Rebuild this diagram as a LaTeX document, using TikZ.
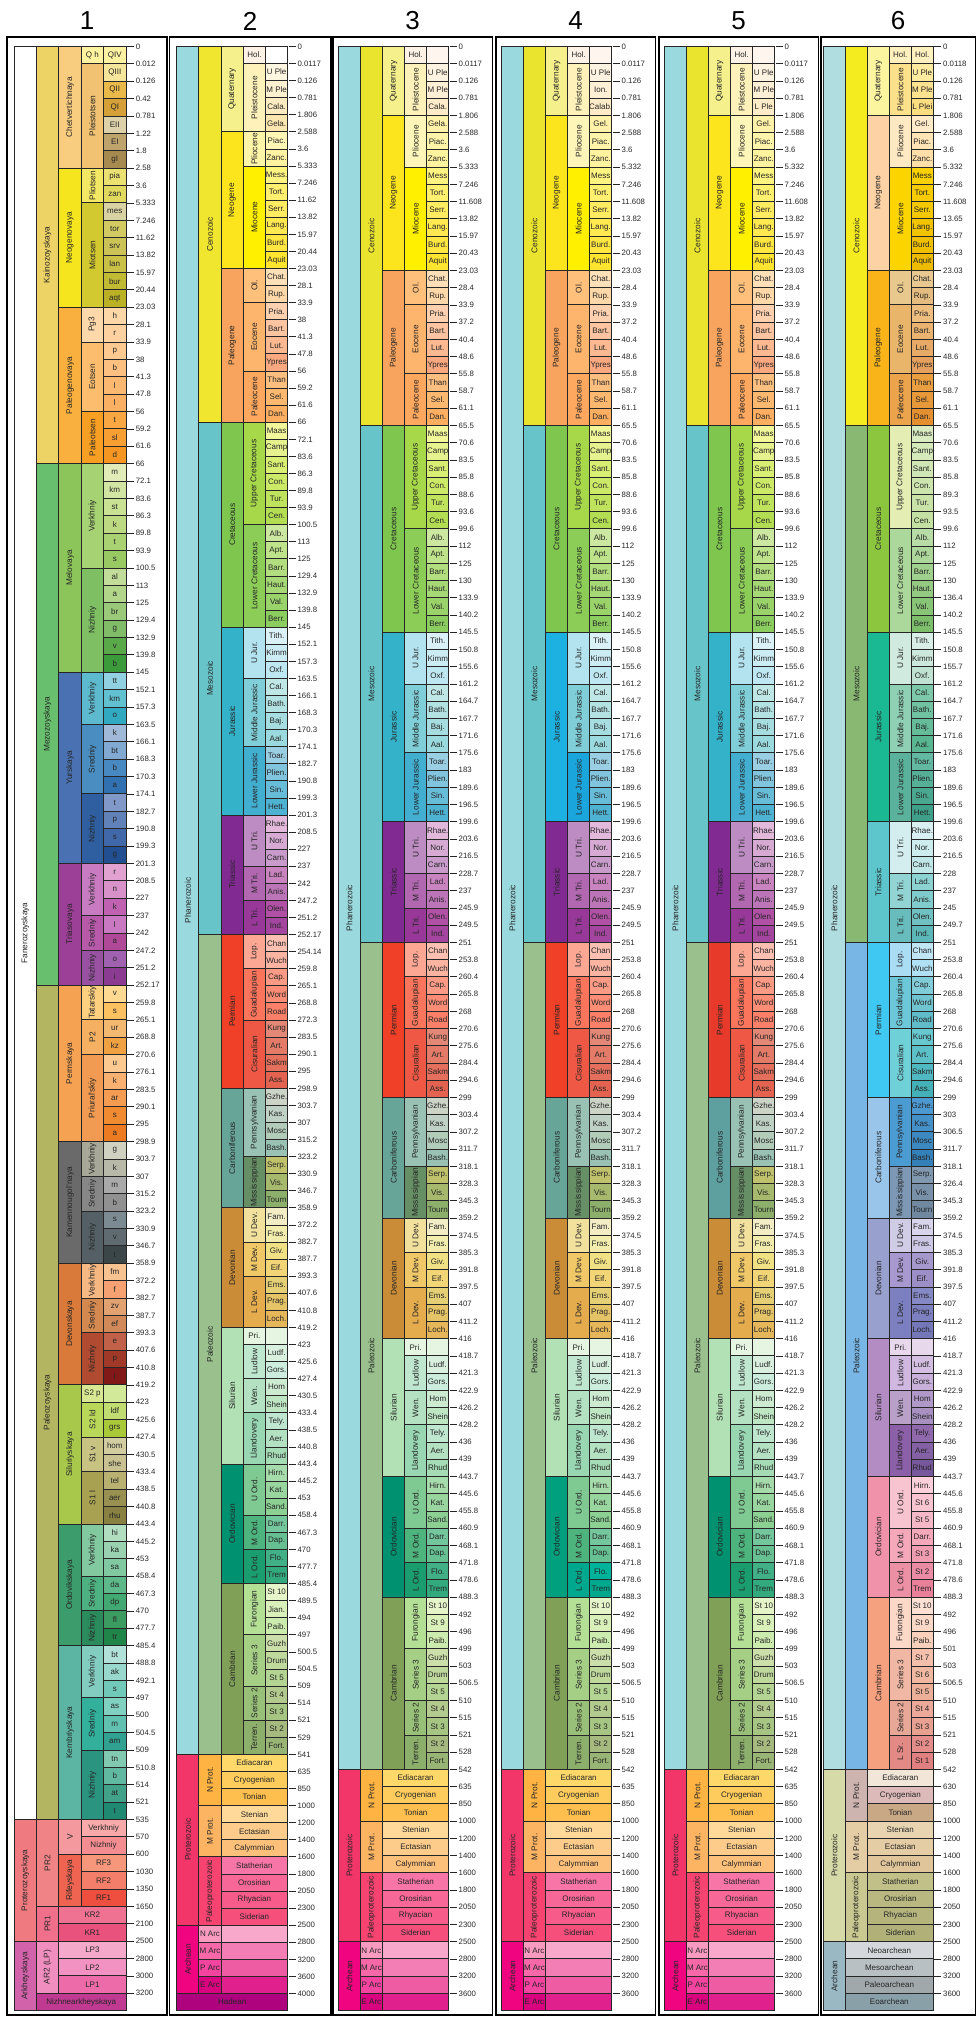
\documentclass[tikz,border=0pt]{standalone}
\usepackage{fontspec}
\setmainfont{Liberation Sans}
\usepackage{tikz}

% column geometry: eon left edge, cell width, top of rows, row height
\newcommand\setcol[4]{\def\colxe{#1}\def\colcw{#2}\def\coly{#3}\def\colh{#4}}
% one box: level from, level to, row from, row to, colour, label, rotation
\newcommand\gcell[7]{%
  \pgfmathsetmacro\gxa{\colxe+(#1)*\colcw}%
  \pgfmathsetmacro\gxb{\colxe+(#2+1)*\colcw}%
  \pgfmathsetmacro\gya{\coly+(#3)*\colh}%
  \pgfmathsetmacro\gyb{\coly+(#4)*\colh}%
  \edef\gtmp{\noexpand\definecolor{gfill}{HTML}{#5}}\gtmp
  \draw[cellline, fill=gfill] (\gxa,\gya) rectangle (\gxb,\gyb);
  \begin{scope}
  \clip (\gxa,\gya) rectangle (\gxb,\gyb);
  \ifnum#7=0 \node[celltext] at ({(\gxa+\gxb)/2},{(\gya+\gyb)/2}) {#6};
  \else \node[rottext] at ({(\gxa+\gxb)/2},{(\gya+\gyb)/2}) {#6};\fi
  \end{scope}}
\newcommand\bigcol[1]{\foreach \la/\lb/\ra/\rb/\hex/\lab/\rot in #1 {\gcell{\la}{\lb}{\ra}{\rb}{\hex}{\lab}{\rot}}}
\newcommand\stagecol[1]{\foreach \lab/\hex [count=\i from 0] in #1 {\gcell{4}{4}{\i}{\i+1}{\hex}{\lab}{0}}}
\newcommand\numcol[1]{%
  \pgfmathsetmacro\nx{\colxe+5*\colcw+1}%
  \foreach \v [count=\i from 0] in #1 {%
    \pgfmathsetmacro\ny{\coly+\i*\colh}%
    \draw[tick] (\nx,\ny) -- ++(7,0) node[numtext] {\v};}}

% ---- column 1
\def\bigA{0/0/0/102/FFFFFF/Fanerozoyskaya/90,
1/1/0/24/EDD265/Kainozoyskaya/90,
1/1/24/54/68BF6D/Mezozoyskaya/90,
1/1/54/102/B4B560/Paleozoyskaya/90,
2/2/0/7/F9CD80/Chetvertichnaya/90,
2/2/7/15/F4E51E/Neogenovaya/90,
2/2/15/24/F9B03E/Paleogenovaya/90,
2/2/24/36/8CC65A/Melovaya/90,
2/2/36/47/4A72B2/Yurskaya/90,
2/2/47/54/9C3F96/Triasovaya/90,
2/2/54/63/F5A253/Permskaya/90,
2/2/63/70/6A6A6A/Kamennougol'naya/90,
2/2/70/77/DA7A3A/Devonskaya/90,
2/2/77/85/A8C84C/Siluriyskaya/90,
2/2/85/92/3C9C6C/Ordovikskaya/90,
2/2/92/102/5BB5A2/Kembriyskaya/90,
3/3/0/1/FFF3A0/Q h/0,
3/3/1/7/F0C272/Pleistotsen/90,
3/3/7/9/F2E864/Pliotsen/90,
3/3/9/15/D2C830/Miotsen/90,
3/3/15/17/FDD8AA/Pg3/90,
3/3/17/21/FCBE6E/Eotsen/90,
3/3/21/24/F79F22/Paleotsen/90,
3/3/24/30/A6D274/Verkhniy/90,
3/3/30/36/7DBF62/Nizhniy/90,
3/3/36/39/5DB9CE/Verkhniy/90,
3/3/39/43/4A8DC0/Sredniy/90,
3/3/43/47/2F5FA0/Nizhniy/90,
3/3/47/50/C87BC0/Verkhniy/90,
3/3/50/52/B85AAA/Sredniy/90,
3/3/52/54/9952A2/Nizhniy/90,
3/3/54/56/FDD07F/Tatarskiy/90,
3/3/56/58/F5B062/P2/90,
3/3/58/63/F09A52/Priural'skiy/90,
3/3/63/65/A8A898/Verkhniy/90,
3/3/65/67/878787/Sredniy/90,
3/3/67/70/546066/Nizhniy/90,
3/3/70/72/F5B882/Verkhniy/90,
3/3/72/74/D48950/Sredniy/90,
3/3/74/77/B04A30/Nizhniy/90,
3/3/77/78/D8E892/S2 p/0,
3/3/78/80/B9D85A/S2 ld/90,
3/3/80/82/C8C383/S1 v/90,
3/3/82/85/A9A152/S1 l/90,
3/3/85/88/82C9A0/Verkhniy/90,
3/3/88/90/4EB181/Sredniy/90,
3/3/90/92/2B8B5C/Nizhniy/90,
3/3/92/95/82CDC0/Verkhniy/90,
3/3/95/98/32B09C/Sredniy/90,
3/3/98/102/2A9481/Nizhniy/90,
0/0/102/109/EF7B80/Proterozoyskaya/90,
1/1/102/107/F08385/PR2/90,
2/2/102/104/F49A9E/V/90,
3/4/102/103/F8AAAA/Verkhniy/0,
3/4/103/104/F48D92/Nizhniy/0,
2/2/104/107/EE6450/Rifeyskaya/90,
3/4/104/105/F6977C/RF3/0,
3/4/105/106/F37F6A/RF2/0,
3/4/106/107/EF4F3F/RF1/0,
1/1/107/109/F0708C/PR1/90,
2/4/107/108/F07292/KR2/0,
2/4/108/109/E8527C/KR1/0,
0/0/109/113/D262AA/Arkheyskaya/90,
1/1/109/112/F08EC0/AR2 (LP)/90,
2/4/109/110/F4A9CA/LP3/0,
2/4/110/111/F192C2/LP2/0,
2/4/111/112/EC6BA8/LP1/0,
1/4/112/113/C03A92/Nizhnearkheyskaya/0}
\def\stageA{QIV/FDF1A2,QIII/F6E69C,QII/E9BA4A,QI/D5A038,EII/DDD1AA,EI/BFA36C,gI/A78A4F,
pia/EAE170,zan/E1D95E,mes/D9D2A2,tor/D3CB62,srv/CCC356,lan/C8C145,bur/C1BA33,aqt/BAB224,
h/FCD8A8,r/FDD1A0,p/FCC990,b/FCC080,l/FBB870,l/FAB062,t/F8A742,sl/F79F32,d/F59622,
m/E1ECB9,km/D2E5A2,st/C9E192,k/BDD982,t/AAD172,s/99C962,al/C1DD99,a/B1D589,br/99C979,g/81BD69,v/59A949,b/3B9B3B,
tt/91D1E1,km/61C1D1,o/31A9C1,k/A1B9D9,bt/81A9D1,b/4989C1,a/3171B1,t/8199C9,p/6181B9,s/4169A9,g/214F91,
r/E1A1D1,n/D991C9,k/C161B1,l/C979C1,a/B14999,o/A161B1,i/8B3B91,
v/FDD991,s/FCC161,ur/F4B971,kz/F0A141,u/FCC991,k/F9B171,ar/F49C51,s/F08B31,a/EC7B21,
g/D1D1C1,k/B9B9A9,m/A9A9A9,b/919191,s/7B8B91,v/5F6B71,t/3B4649,
fm/F7C391,f/F5A171,zv/E1A171,ef/D18959,e/C16149,p/A13929,l/811919,
/D1E999,ldf/C1DD71,grs/A9C939,hom/D1CDA1,she/C9C191,tel/B9B171,aer/999151,rhu/898141,
hi/B1DDC1,ka/99D1B1,sa/81C9A1,da/5DB989,dp/41A971,fl/3B9B61,tr/1F8549,
bt/B1E1D9,ak/99D9CD,s/71C9B9,as/81D1C1,m/61C1B1,am/31A191,tn/81C9B1,b/61B9A1,at/41A189,t/1F8971}
\def\numA{0,0.012,0.126,0.42,0.781,1.22,1.8,2.58,3.6,5.333,7.246,11.62,13.82,15.97,20.44,23.03,28.1,33.9,38,41.3,47.8,56,59.2,61.6,66,72.1,83.6,86.3,89.8,93.9,100.5,113,125,129.4,132.9,139.8,145,152.1,157.3,163.5,166.1,168.3,170.3,174.1,182.7,190.8,199.3,201.3,208.5,227,237,242,247.2,251.2,252.17,259.8,265.1,268.8,270.6,276.1,283.5,290.1,295,298.9,303.7,307,315.2,323.2,330.9,346.7,358.9,372.2,382.7,387.7,393.3,407.6,410.8,419.2,423,425.6,427.4,430.5,433.4,438.5,440.8,443.4,445.2,453,458.4,467.3,470,477.7,485.4,488.8,492.1,497,500,504.5,509,510.8,514,521,535,570,600,1030,1350,1650,2100,2500,2800,3000,3200}

% ---- column 2
\def\bigB{0/0/0/100/9AD9DD/Phanerozoic/90,
1/1/0/22/F0E630/Cenozoic/90,
1/1/22/52/67C5CA/Mesozoic/90,
1/1/52/100/99C08D/Paleozoic/90,
2/2/0/5/F5F08C/Quaternary/90,
2/2/5/13/FCE51C/Neogene/90,
2/2/13/22/F8A45E/Paleogene/90,
2/2/22/34/7FC64E/Cretaceous/90,
2/2/34/45/34B2C9/Jurassic/90,
2/2/45/52/812B92/Triassic/90,
2/2/52/61/F04028/Permian/90,
2/2/61/68/67A599/Carboniferous/90,
2/2/68/75/CB8C37/Devonian/90,
2/2/75/83/B3E1B6/Silurian/90,
2/2/83/90/009270/Ordovician/90,
2/2/90/100/7FA056/Cambrian/90,
3/3/0/1/FEF2E6/Hol./0,
3/3/1/5/FEF2BA/Pleistocene/90,
3/3/5/7/FFF5A8/Pliocene/90,
3/3/7/13/FFF000/Miocene/90,
3/3/13/15/FEC07A/Ol./90,
3/3/15/19/FDB46C/Eocene/90,
3/3/19/22/FDA75F/Paleocene/90,
3/3/22/28/A6D84A/Upper Cretaceous/90,
3/3/28/34/8CCD57/Lower Cretaceous/90,
3/3/34/37/B3E3EE/U Jur./90,
3/3/37/41/80CFD8/Middle Jurassic/90,
3/3/41/45/42AED0/Lower Jurassic/90,
3/3/45/48/BD8CC3/U Tri./90,
3/3/48/50/B168B1/M Tri./90,
3/3/50/52/983999/L Tri./90,
3/3/52/54/FBA794/Lop./90,
3/3/54/57/FB745C/Guadalupian/90,
3/3/57/61/EF5845/Cisuralian/90,
3/3/61/65/99C2B5/Pennsylvanian/90,
3/3/65/68/678F66/Mississippian/90,
3/3/68/70/F1E19D/U Dev./90,
3/3/70/72/F1C868/M Dev./90,
3/3/72/75/E5AC4D/L Dev./90,
3/3/75/76/E6F5E1/Pri./0,
3/3/76/78/BFE6CF/Ludlow/90,
3/3/78/80/B3E1C2/Wen./90,
3/3/80/83/99D7B3/Llandovery/90,
3/3/83/86/7FCA93/U Ord./90,
3/3/86/88/4DB47E/M Ord./90,
3/3/88/90/1A9D6F/L Ord./90,
3/3/90/93/B3E095/Furongian/90,
3/3/93/96/A6CF86/Series 3/90,
3/3/96/98/99C078/Series 2/90,
3/3/98/100/8CB06C/Terren./90,
0/0/100/110/F2366A/Proterozoic/90,
1/1/100/103/FEB342/N Prot./90,
2/4/100/101/FED96A/Ediacaran/0,
2/4/101/102/FECC5C/Cryogenian/0,
2/4/102/103/FEBF4E/Tonian/0,
1/1/103/106/FDB462/M Prot./90,
2/4/103/104/FED99A/Stenian/0,
2/4/104/105/FDCC8A/Ectasian/0,
2/4/105/106/FDC07A/Calymmian/0,
1/1/106/110/F74370/Paleoproterozoic/90,
2/4/106/107/F875A7/Statherian/0,
2/4/107/108/F76898/Orosirian/0,
2/4/108/109/F75B89/Rhyacian/0,
2/4/109/110/F74F7C/Siderian/0,
0/0/110/114/F0047F/Archean/90,
1/1/110/111/F99BC1/N Arc/0,
2/4/110/111/F7A8CB//0,
1/1/111/112/F768A9/M Arc/0,
2/4/111/112/F27EB5//0,
1/1/112/113/F4449F/P Arc/0,
2/4/112/113/EE5CA4//0,
1/1/113/114/DA037F/E Arc/0,
2/4/113/114/E0208C//0,
0/4/114/115/AE027E/Hadean/0}
\def\stageB{/FFFFFF,U Ple/FEF6E0,M Ple/FDF0D0,Cala./FCEBC0,Gela./FCE6B0,Piac./FFF5B5,Zanc./FFF2A0,
Mess./FFF480,Tort./FFF070,Serr./FFEC60,Lang./FFE850,Burd./FFE640,Aquit/FFE530,
Chat./FEE0B8,Rup./FED8A8,Pria./FDD0B0,Bart./FCC4A0,Lut./FCB890,Ypres/FAA880,Than/FDBF80,Sel./FDB870,Dan./FDAE60,
Maas/F2F79A,Camp/E6F28E,Sant./D9EF74,Con./CCE968,Tur./BFE35D,Cen./B3DE53,Alb./CCE8A0,Apt./BFE38A,Barr./B3DE7F,Haut./A6D975,Val./99D36A,Berr./8CCD60,
Tith./D9F1F7,Kimm/CCECF4,Oxf./BFE7F1,Cal./BFE7E5,Bath./B3E2E3,Baj./A6DDE0,Aal./9AD9DD,Toar./99CEE3,Plien./80C5DD,Sin./67BCD8,Hett./4EB3D3,
Rhae./E3B9DB,Nor./D6AAD3,Carn./C99BCB,Lad./C983BF,Anis./BC75B7,Olen./B051A5,Ind./A4469F,
Chan/FCC0B2,Wuch/FCB4A2,Cap./FB9A85,Word/FB8D76,Road/FB8069,Kung/E38776,Art./E37B68,Sakm/E36F5C,Ass./E36350,
Gzhe./CCD4C7,Kas./BFD0C5,Mosc/B3CBB9,Bash./99C2B5,Serp./BFC26B,Vis./A6B96C,Tourn/8CB06C,
Fam./F2EDC5,Fras./F2EDAD,Giv./F1E185,Eif./F1D576,Ems./E5D075,Prag./E5C468,Loch./E5B75A,
/E6F5E1,Ludf./D9F0DF,Gors./CCECDD,Hom/CCEBD1,Shein/BFE6C3,Tely./BFE6CF,Aer./B3E1C2,Rhud/A6DCB5,
Hirn./A6DBAB,Kat./99D69F,Sand./8CD094,Darr./74C69C,Dap./66C092,Flo./41B087,Trem/33A97E,
St 10/E6F5C9,Jian./D9F0BB,Paib./CCEBAE,Guzh/CCDFAA,Drum/BFD99D,St 5/B3D492,St 4/B3CA8E,St 3/A6C583,St 2/A6BA80,Fort./99B575}
\def\numB{0,0.0117,0.126,0.781,1.806,2.588,3.6,5.333,7.246,11.62,13.82,15.97,20.44,23.03,28.1,33.9,38,41.3,47.8,56,59.2,61.6,66,72.1,83.6,86.3,89.8,93.9,100.5,113,125,129.4,132.9,139.8,145,152.1,157.3,163.5,166.1,168.3,170.3,174.1,182.7,190.8,199.3,201.3,208.5,227,237,242,247.2,251.2,252.17,254.14,259.8,265.1,268.8,272.3,283.5,290.1,295,298.9,303.7,307,315.2,323.2,330.9,346.7,358.9,372.2,382.7,387.7,393.3,407.6,410.8,419.2,423,425.6,427.4,430.5,433.4,438.5,440.8,443.4,445.2,453,458.4,467.3,470,477.7,485.4,489.5,494,497,500.5,504.5,509,514,521,529,541,635,850,1000,1200,1400,1600,1800,2050,2300,2500,2800,3200,3600,4000}

% ---- columns 3 to 5
\def\bigC{0/0/0/100/9AD9DD/Phanerozoic/90,
1/1/0/22/EAE42E/Cenozoic/90,
1/1/22/52/67C5CA/Mesozoic/90,
1/1/52/100/99C08D/Paleozoic/90,
2/2/0/4/F5F08C/Quaternary/90,
2/2/4/13/FCE51C/Neogene/90,
2/2/13/22/F8A45E/Paleogene/90,
2/2/22/34/7FC64E/Cretaceous/90,
2/2/34/45/34B2C9/Jurassic/90,
2/2/45/52/812B92/Triassic/90,
2/2/52/61/F04028/Permian/90,
2/2/61/68/67A599/Carboniferous/90,
2/2/68/75/CB8C37/Devonian/90,
2/2/75/83/B3E1B6/Silurian/90,
2/2/83/90/009270/Ordovician/90,
2/2/90/100/7FA056/Cambrian/90,
3/3/0/1/FEF2E6/Hol./0,
3/3/1/4/FEF2BA/Pleistocene/90,
3/3/4/7/FEF5B8/Pliocene/90,
3/3/7/13/FFF000/Miocene/90,
3/3/13/15/FEC07A/Ol./90,
3/3/15/19/FDB46C/Eocene/90,
3/3/19/22/FDA75F/Paleocene/90,
3/3/22/28/A6D84A/Upper Cretaceous/90,
3/3/28/34/8CCD57/Lower Cretaceous/90,
3/3/34/37/B3E3EE/U Jur./90,
3/3/37/41/80CFD8/Middle Jurassic/90,
3/3/41/45/42AED0/Lower Jurassic/90,
3/3/45/48/BD8CC3/U Tri./90,
3/3/48/50/B168B1/M Tri./90,
3/3/50/52/983999/L Tri./90,
3/3/52/54/FBA794/Lop./90,
3/3/54/57/FB745C/Guadalupian/90,
3/3/57/61/EF5845/Cisuralian/90,
3/3/61/65/99C2B5/Pennsylvanian/90,
3/3/65/68/678F66/Mississippian/90,
3/3/68/70/F1E19D/U Dev./90,
3/3/70/72/F1C868/M Dev./90,
3/3/72/75/E5AC4D/L Dev./90,
3/3/75/76/E6F5E1/Pri./0,
3/3/76/78/BFE6CF/Ludlow/90,
3/3/78/80/B3E1C2/Wen./90,
3/3/80/83/99D7B3/Llandovery/90,
3/3/83/86/7FCA93/U Ord./90,
3/3/86/88/4DB47E/M Ord./90,
3/3/88/90/1A9D6F/L Ord./90,
3/3/90/93/B3E095/Furongian/90,
3/3/93/96/A6CF86/Series 3/90,
3/3/96/98/99C078/Series 2/90,
3/3/98/100/8CB06C/Terren./90,
0/0/100/110/F2366A/Proterozoic/90,
1/1/100/103/FEB342/N Prot./90,
2/4/100/101/FED96A/Ediacaran/0,
2/4/101/102/FECC5C/Cryogenian/0,
2/4/102/103/FEBF4E/Tonian/0,
1/1/103/106/FDB462/M Prot./90,
2/4/103/104/FED99A/Stenian/0,
2/4/104/105/FDCC8A/Ectasian/0,
2/4/105/106/FDC07A/Calymmian/0,
1/1/106/110/F74370/Paleoproterozoic/90,
2/4/106/107/F875A7/Statherian/0,
2/4/107/108/F76898/Orosirian/0,
2/4/108/109/F75B89/Rhyacian/0,
2/4/109/110/F74F7C/Siderian/0,
0/0/110/114/F0047F/Archean/90,
1/1/110/111/F99BC1/N Arc/0,
2/4/110/111/F7A8CB//0,
1/1/111/112/F768A9/M Arc/0,
2/4/111/112/F27EB5//0,
1/1/112/113/F4449F/P Arc/0,
2/4/112/113/EE5CA4//0,
1/1/113/114/DA037F/E Arc/0,
2/4/113/114/E0208C//0}
\def\stageC{/FEF5EE,U Ple/FEF2E0,M Ple/FEEFD5,Cala./FEECC8,Gela./FFF2A8,Piac./FFF5AA,Zanc./FFF3A0,
Mess/FFF480,Tort./FFF070,Serr./FFEC60,Lang./FFE850,Burd./FFE640,Aquit/FFE530,
Chat./FEE0B8,Rup./FED8A8,Pria./FDD0B0,Bart./FCC4A0,Lut./FCB890,Ypres/FAA880,Than/FDBF80,Sel./FDB870,Dan./FDAE60,
Maas/F2F79A,Camp/E6F28E,Sant./D9EF74,Con./CCE968,Tur./BFE35D,Cen./B3DE53,Alb./CCE8A0,Apt./BFE38A,Barr./B3DE7F,Haut./A6D975,Val./99D36A,Berr./8CCD60,
Tith./D9F1F7,Kimm/CCECF4,Oxf./BFE7F1,Cal./BFE7E5,Bath./B3E2E3,Baj./A6DDE0,Aal./9AD9DD,Toar./99CEE3,Plien./80C5DD,Sin./67BCD8,Hett./4EB3D3,
Rhae./E3B9DB,Nor./D6AAD3,Carn./C99BCB,Lad./C983BF,Anis./BC75B7,Olen./B051A5,Ind./A4469F,
Chan/FCC0B2,Wuch/FCB4A2,Cap./FB9A85,Word/FB8D76,Road/FB8069,Kung/E38776,Art./E37B68,Sakm/E36F5C,Ass./E36350,
Gzhe./CCD4C7,Kas./BFD0C5,Mosc/B3CBB9,Bash./99C2B5,Serp./BFC26B,Vis./A6B96C,Tourn/8CB06C,
Fam./F2EDC5,Fras./F2EDAD,Giv./F1E185,Eif./F1D576,Ems./E5D075,Prag./E5C468,Loch./E5B75A,
/E6F5E1,Ludf./D9F0DF,Gors./CCECDD,Hom/CCEBD1,Shein/BFE6C3,Tely./BFE6CF,Aer./B3E1C2,Rhud/A6DCB5,
Hirn./A6DBAB,Kat./99D69F,Sand./8CD094,Darr./74C69C,Dap./66C092,Flo./41B087,Trem/33A97E,
St 10/E6F5C9,St 9/D9F0BB,Paib./CCEBAE,Guzh/CCDFAA,Drum/BFD99D,St 5/B3D492,St 4/B3CA8E,St 3/A6C583,St 2/A6BA80,Fort./99B575}
% boxes of column 4 and 5 that differ from column 3
\def\fixD{4/4/2/3/FEEFD5/Ion./0,
4/4/3/4/FEECC8/Calab./0,
4/4/4/5/FFF2A8/Gel./0,
2/2/34/45/1DB1E2/Jurassic/90,
3/3/41/45/1AA6DC/Lower Jurassic/90,
2/2/83/90/00A07E/Ordovician/90,
3/3/88/90/00A88E/L Ord./90,
4/4/88/89/00B49C/Flo./0,
4/4/89/90/00A88E/Trem/0}
\def\fixE{4/4/2/3/FEEFD5/M Ple/0,
4/4/3/4/FEECC8/L Ple/0,
4/4/4/5/FFF2A8/Gel./0,
2/2/52/61/E83A2A/Permian/90,
2/2/61/68/5EA0A0/Carboniferous/90}
\def\numC{0,0.0117,0.126,0.781,1.806,2.588,3.6,5.333,7.246,11.608,13.82,15.97,20.43,23.03,28.4,33.9,37.2,40.4,48.6,55.8,58.7,61.1,65.5,70.6,83.5,85.8,88.6,93.6,99.6,112,125,130,133.9,140.2,145.5,150.8,155.6,161.2,164.7,167.7,171.6,175.6,183,189.6,196.5,199.6,203.6,216.5,228.7,237,245.9,249.5,251,253.8,260.4,265.8,268,270.6,275.6,284.4,294.6,299,303.4,307.2,311.7,318.1,328.3,345.3,359.2,374.5,385.3,391.8,397.5,407,411.2,416,418.7,421.3,422.9,426.2,428.2,436,439,443.7,445.6,455.8,460.9,468.1,471.8,478.6,488.3,492,496,499,503,506.5,510,515,521,528,542,635,850,1000,1200,1400,1600,1800,2050,2300,2500,2800,3200,3600}
\def\numD{0,0.0117,0.126,0.781,1.806,2.588,3.6,5.332,7.246,11.608,13.82,15.97,20.43,23.03,28.4,33.9,37.2,40.4,48.6,55.8,58.7,61.1,65.5,70.6,83.5,85.8,88.6,93.6,99.6,112,125,130,133.9,140.2,145.5,150.8,155.6,161.2,164.7,167.7,171.6,175.6,183,189.6,196.5,199.6,203.6,216.5,228.7,237,245.9,249.5,251,253.8,260.4,265.8,268,270.6,275.6,284.4,294.6,299,303.4,307.2,311.7,318.1,328.3,345.3,359.2,374.5,385.3,391.8,397.5,407,411.2,416,418.7,421.3,422.9,426.2,428.2,436,439,443.7,445.6,455.8,460.9,468.1,471.8,478.6,488.3,492,496,499,503,506.5,510,515,521,528,542,635,850,1000,1200,1400,1600,1800,2050,2300,2500,2800,3200,3600}

% ---- column 6
\def\bigF{0/0/0/100/B0DDE0/Phanerozoic/90,
1/1/0/22/F5EC20/Cenozoic/90,
1/1/22/52/88B872/Mesozoic/90,
1/1/52/100/78B6E6/Paleozoic/90,
2/2/0/4/FBF5A0/Quaternary/90,
2/2/4/13/FDD2A4/Neogene/90,
2/2/13/22/F8B418/Paleogene/90,
2/2/22/34/8CC63F/Cretaceous/90,
2/2/34/45/1BB894/Jurassic/90,
2/2/45/52/5CC6CC/Triassic/90,
2/2/52/61/3FC9F2/Permian/90,
2/2/61/68/9AC5EA/Carboniferous/90,
2/2/68/75/98A0CE/Devonian/90,
2/2/75/83/B48CC4/Silurian/90,
2/2/83/90/F092AA/Ordovician/90,
2/2/90/100/F5A07E/Cambrian/90,
3/3/0/1/FFF0BE/Hol./0,
3/3/1/4/FCE08A/Pleistocene/90,
3/3/4/7/FFE9C2/Pliocene/90,
3/3/7/13/FCD400/Miocene/90,
3/3/13/15/E8C88C/Ol./90,
3/3/15/19/E9B56A/Eocene/90,
3/3/19/22/EBA44C/Paleocene/90,
3/3/22/28/E4EDB4/Upper Cretaceous/90,
3/3/28/34/ADD89B/Lower Cretaceous/90,
3/3/34/37/D0EAE0/U Jur./90,
3/3/37/41/8FD0B4/Middle Jurassic/90,
3/3/41/45/5AB29C/Lower Jurassic/90,
3/3/45/48/D4EEF0/U Tri./90,
3/3/48/50/92D4D4/M Tri./90,
3/3/50/52/68BCBC/L Tri./90,
3/3/52/54/AADCF4/Lop./90,
3/3/54/57/6CC8D8/Guadalupian/90,
3/3/57/61/70D0D8/Cisuralian/90,
3/3/61/65/4C9CD4/Pennsylvanian/90,
3/3/65/68/7C98B4/Mississippian/90,
3/3/68/70/D0CCE6/U Dev./90,
3/3/70/72/A898D0/M Dev./90,
3/3/72/75/7C80C0/L Dev./90,
3/3/75/76/E8D8EC/Pri./0,
3/3/76/78/D0B8E0/Ludlow/90,
3/3/78/80/B8A0C8/Wen./90,
3/3/80/83/8C60A8/Llandovery/90,
3/3/83/86/F8C4D0/U Ord./90,
3/3/86/88/F4A8BA/M Ord./90,
3/3/88/90/EC90A6/L Ord./90,
3/3/90/93/FCD8C8/Furongian/90,
3/3/93/96/F0B8A4/Series 3/90,
3/3/96/98/E8A898/Series 2/90,
3/3/98/100/E48A86/L Sr./90,
0/0/100/110/D6DAA8/Proterozoic/90,
1/1/100/103/CDB4AE/N Prot./90,
2/4/100/101/F2E6D8/Ediacaran/0,
2/4/101/102/DDBABA/Cryogenian/0,
2/4/102/103/C9A886/Tonian/0,
1/1/103/106/E4CCA4/M Prot./90,
2/4/103/104/E8D4B0/Stenian/0,
2/4/104/105/E4CCA4/Ectasian/0,
2/4/105/106/E0C49A/Calymmian/0,
1/1/106/110/C8C890/Paleoproterozoic/90,
2/4/106/107/C0C088/Statherian/0,
2/4/107/108/B8B880/Orosirian/0,
2/4/108/109/B4B47C/Rhyacian/0,
2/4/109/110/B0B078/Siderian/0,
0/0/110/114/9AB8C4/Archean/90,
1/4/110/111/D4D8DC/Neoarchean/0,
1/4/111/112/B8C0C4/Mesoarchean/0,
1/4/112/113/A0A8AC/Paleoarchean/0,
1/4/113/114/8AA0A8/Eoarchean/0}
\def\stageF{Hol./FFF0C0,U Ple/FEEBA0,M Ple/FDE38F,L Plei/FCDD80,Gel./FFEBC8,Piac./FFE5B5,Zanc./FEDFA8,
Mess/F9D000,Tort./F6CC00,Serr./F4C800,Lang./F2C400,Burd./F0C000,Aquit/EDBC00,
Chat./E8C890,Rup./E4BC80,Pria./EEBE7E,Bart./EAB470,Lut./E6AA66,Ypres/E4A05C,Than/E99E40,Sel./E79838,Dan./E59030,
Maas/D9EBC0,Camp/D5E9BA,Sant./D0E6B4,Con./CCE4AE,Tur./C8E2A8,Cen./C4E0A2,Alb./B8DCA6,Apt./ACD69A,Barr./A0D08E,Haut./94CA82,Val./88C476,Berr./7CBE6A,
Tith./D8EEE6,Kimm/CCE8DC,Oxf./C0E2D2,Cal./7CC8A8,Bath./70C2A0,Baj./64BC98,Aal./58B690,Toar./62B8A0,Plien./56B098,Sin./4AA890,Hett./3EA088,
Rhae./D8F0F2,Nor./CCECEE,Carn./C0E6E8,Lad./8CD2D2,Anis./80CCCC,Olen./70C2C2,Ind./5CB8B8,
Chan/C0E6F6,Wuch/B0E0F4,Cap./80CCD8,Word/70C4D0,Road/60BCC8,Kung/68C8D0,Art./5CC0C8,Sakm/50B8C0,Ass./44B0B8,
Gzhe./4C98D0,Kas./4490C8,Mosc/3C88C0,Bash./3480B8,Serp./8098B0,Vis./7890A8,Tourn/7088A0,
Fam./D8D4EC,Fras./CCC8E6,Giv./A498CC,Eif./9C8EC6,Ems./8488C4,Prag./7C80C0,Loch./7478B8,
/E8D8EC,Ludf./D4BEE2,Gors./C8B0DA,Hom/B098C8,Shein/A890C0,Tely./9068AC,Aer./8460A4,Rhud/78589C,
Hirn./FCD0DA,St 6/F8C4D0,St 5/F4B8C6,Darr./F4A8BA,St 3/F09CB0,St 2/EC8CA4,Trem/E8809A,
St 10/FCE0D4,St 9/FAD8C8,Paib./F8D0BC,St 7/F4C0AC,St 6/F0B8A0,St 5/ECB098,St 4/ECA898,St 3/E8A090,St 2/E48C8A,St 1/E08080}
\def\numF{0,0.0118,0.126,0.781,1.806,2.588,3.6,5.332,7.246,11.608,13.65,15.97,20.43,23.03,28.4,33.9,37.2,40.4,48.6,55.8,58.7,61.1,65.5,70.6,83.5,85.8,89.3,93.5,99.6,112,125,130,136.4,140.2,145.5,150.8,155.7,161.2,164.7,167.7,171.6,175.6,183,189.6,196.5,199.6,203.6,216.5,228,237,245,249.7,251,253.8,260.4,265.8,268,270.6,275.6,284.4,294.6,299,303,306.5,311.7,318.1,326.4,345.3,359.2,374.5,385.3,391.8,397.5,407,411.2,416,418.7,421.3,422.9,426.2,428.2,436,439,443.7,445.6,455.8,460.9,468.1,471.8,478.6,488.3,492,496,501,503,506.5,510,515,521,528,542,630,850,1000,1200,1400,1600,1800,2050,2300,2500,2800,3200,3600}

\begin{document}
\begin{tikzpicture}[x=1pt, y=-1pt,
  cellline/.style={draw=black!85, line width=0.9pt},
  celltext/.style={font=\fontsize{8}{9}\selectfont, text=black!85, inner sep=0pt},
  rottext/.style={celltext, font=\fontsize{8.3}{9}\selectfont, rotate=90},
  numtext/.style={anchor=west, font=\fontsize{7.8}{8}\selectfont, text=black!85, inner sep=1.5pt},
  tick/.style={draw=black!85, line width=0.8pt},
  frame/.style={draw=black, line width=1.5pt},
  headtext/.style={font=\fontsize{26}{28}\selectfont, inner sep=0pt}]
\useasboundingbox (0,0) rectangle (979,2018);

% headers
\node[headtext] (h1) at (87,21) {1};
\node[headtext] (h2) at (250,21) {2};
\node[headtext] (h3) at (412.5,21) {3};
\node[headtext] (h4) at (575.5,21) {4};
\node[headtext] (h5) at (738.5,21) {5};
\node[headtext] (h6) at (898,21) {6};

% column 1
\setcol{14}{22.4}{46.5}{17.382}
\begin{scope}
\clip (7,37) rectangle (167,2015);
\bigcol\bigA
\stagecol\stageA
\numcol\numA
\end{scope}
\draw[frame] (7,37) rectangle (167,2015);

% column 2
\setcol{176.7}{22.2}{46.5}{17.079}
\begin{scope}
\clip (169.5,37) rectangle (331,2015);
\bigcol\bigB
\stagecol\stageB
\numcol\numB
\end{scope}
\draw[frame] (169.5,37) rectangle (331,2015);

% column 3
\setcol{338.3}{22.1}{46.5}{17.229}
\begin{scope}
\clip (333,37) rectangle (492.5,2015);
\bigcol\bigC
\stagecol\stageC
\numcol\numC
\end{scope}
\draw[frame] (333,37) rectangle (492.5,2015);

% column 4
\setcol{501.3}{22.1}{46.5}{17.229}
\begin{scope}
\clip (496,37) rectangle (655.5,2015);
\bigcol\bigC
\stagecol\stageC
\bigcol\fixD
\numcol\numD
\end{scope}
\draw[frame] (496,37) rectangle (655.5,2015);

% column 5
\setcol{664.3}{22.1}{46.5}{17.229}
\begin{scope}
\clip (659,37) rectangle (818.5,2015);
\bigcol\bigC
\stagecol\stageC
\bigcol\fixE
\numcol\numD
\end{scope}
\draw[frame] (659,37) rectangle (818.5,2015);

% column 6
\setcol{823.3}{22}{46.5}{17.229}
\begin{scope}
\clip (821,37) rectangle (975.5,2015);
\bigcol\bigF
\stagecol\stageF
\numcol\numF
\end{scope}
\draw[frame] (821,37) rectangle (975.5,2015);
\end{tikzpicture}
\end{document}
